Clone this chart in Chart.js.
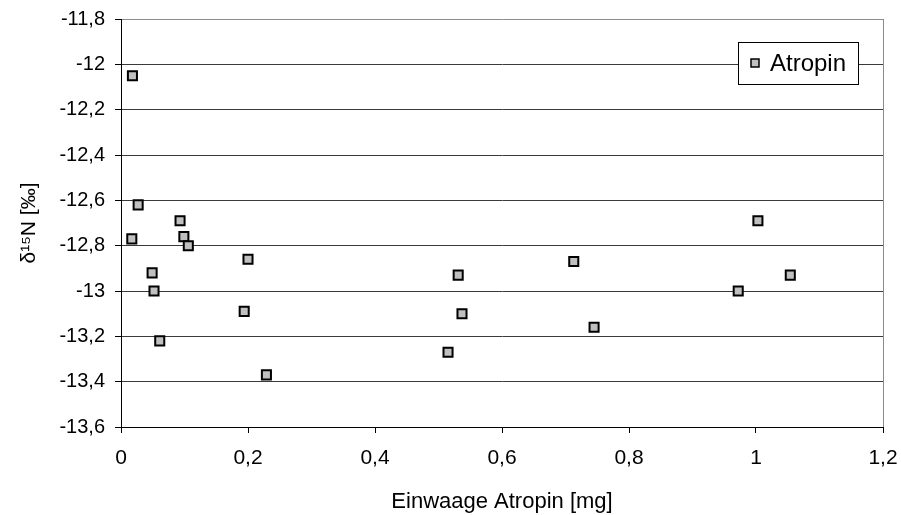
<!DOCTYPE html>
<html>
<head>
<meta charset="utf-8">
<script src="https://cdn.jsdelivr.net/npm/chart.js@4.4.1/dist/chart.umd.min.js"></script>
<style>
  html, body { margin: 0; padding: 0; background: #fff; }
  #wrap { width: 901px; height: 515px; }
</style>
</head>
<body>
<div id="wrap"><canvas id="chart" width="901" height="515"></canvas></div>
<script>
// Einwaage (mg) und gemessene delta-15N Werte
var einwaage = [0.018, 0.027, 0.017, 0.093, 0.099, 0.106, 0.200, 0.049, 0.052, 0.194,
                0.061, 0.229, 0.713, 0.531, 0.537, 0.745, 0.515, 0.972, 1.054, 1.003];
var delta15N = [-12.05, -12.62, -12.77, -12.69, -12.76, -12.80, -12.86, -12.92, -13.00, -13.09,
                -13.22, -13.37, -12.87, -12.93, -13.10, -13.16, -13.27, -13.00, -12.93, -12.69];
var seriesName = 'Atropin';
var xTitle = 'Einwaage Atropin [mg]';
var yTitle = 'δ¹⁵N [‰]';

var FONT = '"Liberation Sans", Arial, sans-serif';

var points = einwaage.map(function (x, i) { return { x: x, y: delta15N[i] }; });

var fmt = function (v) {
    return String(Math.round(v * 10) / 10).replace('.', ',');
};

// grauer Rahmen rechts
var frame = {
    id: 'frame',
    beforeDatasetsDraw: function (chart) {
        var ctx = chart.ctx, a = chart.chartArea;
        ctx.save();
        ctx.strokeStyle = '#8c8c8c';
        ctx.lineWidth = 1;
        ctx.beginPath();
        ctx.moveTo(Math.round(a.right) + 0.5, a.top);
        ctx.lineTo(Math.round(a.right) + 0.5, a.bottom);
        ctx.stroke();
        ctx.restore();
    }
};

// Legende im Diagrammbereich
var legendBox = {
    id: 'legendBox',
    afterDatasetsDraw: function (chart) {
        var ctx = chart.ctx, a = chart.chartArea;
        var ds = chart.data.datasets[0];
        var w = 120, h = 42;
        var x = Math.round(a.right - 25 - w), y = Math.round(a.top + 23);
        ctx.save();
        ctx.fillStyle = '#fff';
        ctx.fillRect(x, y, w, h);
        ctx.strokeStyle = '#000';
        ctx.lineWidth = 1;
        ctx.strokeRect(x + 0.5, y + 0.5, w, h);
        ctx.fillStyle = ds.backgroundColor;
        ctx.fillRect(x + 13, y + 17, 8, 8);
        ctx.strokeStyle = ds.borderColor;
        ctx.lineWidth = 1.5;
        ctx.strokeRect(x + 13, y + 17, 8, 8);
        ctx.fillStyle = '#000';
        ctx.font = '24px ' + FONT;
        ctx.textBaseline = 'middle';
        ctx.fillText(ds.label, x + 32, y + h / 2 + 1);
        ctx.restore();
    }
};

new Chart(document.getElementById('chart'), {
    type: 'scatter',
    data: {
        datasets: [{
            label: seriesName,
            data: points,
            pointStyle: 'rect',
            pointRadius: 6.4,
            pointHoverRadius: 6.4,
            backgroundColor: '#c0c0c0',
            borderColor: '#000',
            borderWidth: 2
        }]
    },
    options: {
        responsive: false,
        animation: false,
        layout: { padding: { top: 19, right: 18, left: 0, bottom: 0 } },
        plugins: {
            legend: { display: false },
            tooltip: { enabled: false }
        },
        scales: {
            x: {
                type: 'linear',
                min: 0,
                max: 1.2,
                ticks: {
                    stepSize: 0.2,
                    color: '#000',
                    padding: 13,
                    font: { family: FONT, size: 21 },
                    callback: fmt
                },
                grid: { drawOnChartArea: false, drawTicks: true, tickLength: 6, tickColor: '#000' },
                border: { color: '#000', width: 1 },
                title: {
                    display: true,
                    text: xTitle,
                    color: '#000',
                    font: { family: FONT, size: 22 },
                    padding: { top: 0, bottom: 0 }
                },
                afterFit: function (s) {
                    s.height = 88;
                    s.paddingRight = 0;
                    s.paddingLeft = 0;
                }
            },
            y: {
                type: 'linear',
                min: -13.6,
                max: -11.8,
                ticks: {
                    stepSize: 0.2,
                    color: '#000',
                    padding: 10,
                    font: { family: FONT, size: 20 },
                    callback: fmt
                },
                grid: {
                    color: function (c) {
                        return c.tick && Math.abs(c.tick.value + 11.8) < 1e-6 ? '#8c8c8c' : '#3a3a3a';
                    },
                    lineWidth: 1,
                    tickLength: 6,
                    tickColor: '#000'
                },
                border: { color: '#000', width: 1 },
                title: {
                    display: true,
                    text: yTitle,
                    color: '#000',
                    font: { family: FONT, size: 21 },
                    padding: { top: 17, bottom: 0 }
                },
                afterFit: function (s) {
                    s.width = 121;
                    s.paddingTop = 0;
                    s.paddingBottom = 0;
                }
            }
        }
    },
    plugins: [frame, legendBox]
});
</script>
</body>
</html>
